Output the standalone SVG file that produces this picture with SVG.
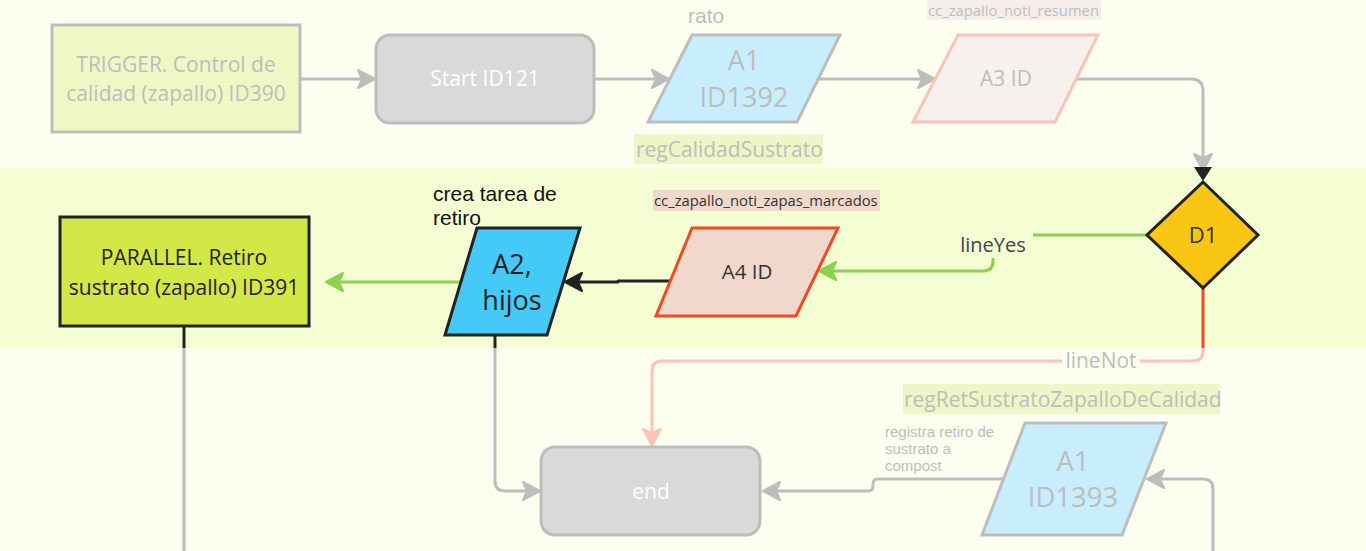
<svg xmlns="http://www.w3.org/2000/svg" width="1366" height="551" viewBox="0 0 1366 551">
<style>
.os{font-family:"Open Sans","Noto Sans","DejaVu Sans",sans-serif}
.ar{font-family:"Liberation Sans",Arial,sans-serif}
.gt{fill:#BDBDBD}
.wt{fill:#FFFFFF}
.dt{fill:#222222}
.gs{stroke:#BDBDBD;stroke-width:3}
.ds{stroke:#222222;stroke-width:3}
.ln{fill:none;stroke-width:3;stroke-linejoin:round}
</style>
<defs>
<marker id="ag" viewBox="0 0 20 20" refX="18" refY="10" markerWidth="20" markerHeight="20" markerUnits="userSpaceOnUse" orient="auto"><path d="M2,1 L19,10 L2,19 L6,10 z" fill="#BDBDBD" stroke="#BDBDBD" stroke-width="2" stroke-linejoin="round"/></marker>
<marker id="agr" viewBox="0 0 20 20" refX="18" refY="10" markerWidth="20" markerHeight="20" markerUnits="userSpaceOnUse" orient="auto"><path d="M2,1 L19,10 L2,19 L6,10 z" fill="#8CD14E" stroke="#8CD14E" stroke-width="2" stroke-linejoin="round"/></marker>
<marker id="ab" viewBox="0 0 20 20" refX="18" refY="10" markerWidth="20" markerHeight="20" markerUnits="userSpaceOnUse" orient="auto"><path d="M2,1 L19,10 L2,19 L6,10 z" fill="#222222" stroke="#222222" stroke-width="2" stroke-linejoin="round"/></marker>
<marker id="ap" viewBox="0 0 20 20" refX="18" refY="10" markerWidth="20" markerHeight="20" markerUnits="userSpaceOnUse" orient="auto"><path d="M2,1 L19,10 L2,19 L6,10 z" fill="#FFC2B8" stroke="#FFC2B8" stroke-width="2" stroke-linejoin="round"/></marker>
</defs>
<rect x="0" y="0" width="1366" height="551" fill="#FCFFF0"/>
<rect x="0" y="168" width="1366" height="180" fill="#F5FDD3"/>

<g id="connectors">
<path class="ln" d="M300,79 H374" stroke="#BDBDBD" marker-end="url(#ag)"/>
<path class="ln" d="M594,79 H668" stroke="#BDBDBD" marker-end="url(#ag)"/>
<path class="ln" d="M818,79 H934" stroke="#BDBDBD" marker-end="url(#ag)"/>
<path class="ln" d="M1077,79 H1191 Q1203,79 1203,91 V170" stroke="#BDBDBD" marker-end="url(#ag)"/>
<polygon points="1194,167 1212,167 1203,181" fill="#222222"/>
<path class="ln" d="M1147,235 H1033" stroke="#8CD14E"/>
<path class="ln" d="M993,258 V261 Q993,271 983,271 H820" stroke="#8CD14E" marker-end="url(#agr)"/>
<text class="os" x="993" y="252" font-size="20" text-anchor="middle" fill="#444444">lineYes</text>
<path class="ln" d="M1203,288 V348" stroke="#F04A23"/>
<path class="ln" d="M1203,348 V351 Q1203,361 1193,361 H1140" stroke="#FFC2B8"/>
<path class="ln" d="M1062,361 H662 Q652,361 652,371 V445" stroke="#FFC2B8" marker-end="url(#ap)"/>
<text class="os gt" x="1101" y="368" font-size="21" text-anchor="middle">lineNot</text>
<path class="ln" d="M670,281 H618 V282 H566" stroke="#222222" marker-end="url(#ab)"/>
<path class="ln" d="M460,282 H327" stroke="#8CD14E" marker-end="url(#agr)"/>
<path class="ln" d="M184,326 V348" stroke="#222222"/>
<path class="ln" d="M184,348 V551" stroke="#BDBDBD"/>
<path class="ln" d="M495,335 V348" stroke="#222222"/>
<path class="ln" d="M495,348 V481 Q495,491 505,491 H539" stroke="#BDBDBD" marker-end="url(#ag)"/>
<path class="ln" d="M1003,479 H878 Q873,479 873,484 V486 Q873,491 868,491 H764" stroke="#BDBDBD" marker-end="url(#ag)"/>
<path class="ln" d="M1213,551 V489 Q1213,479 1203,479 H1148" stroke="#BDBDBD" marker-end="url(#ag)"/>
</g>

<g id="trigger">
<rect x="52" y="25" width="248" height="107" fill="#EFF7C5" class="gs"/>
<text class="os gt" x="176" y="72" font-size="21" text-anchor="middle">TRIGGER. Control de</text>
<text class="os gt" x="176" y="101" font-size="21" text-anchor="middle">calidad (zapallo) ID390</text>
</g>

<g id="start">
<rect x="376" y="35" width="218" height="88" rx="14" fill="#D9D9D9" class="gs"/>
<text class="os wt" x="485" y="86" font-size="21" text-anchor="middle">Start ID121</text>
</g>

<g id="a1-1392">
<text class="ar gt" x="688" y="23" font-size="21">rato</text>
<polygon points="692,35 840,35 797,122 648,122" fill="#C8EEFE" class="gs"/>
<text class="os gt" x="744" y="70" font-size="27" text-anchor="middle">A1</text>
<text class="os gt" x="744" y="107" font-size="27" text-anchor="middle">ID1392</text>
<rect x="634" y="134" width="189" height="30" fill="#EEF5C6"/>
<text class="os gt" x="636" y="157" font-size="21">regCalidadSustrato</text>
</g>

<g id="a3">
<rect x="927" y="0" width="174" height="20" fill="#F5EDEA"/>
<text class="os gt" x="928" y="16" font-size="14.8">cc_zapallo_noti_resumen</text>
<polygon points="958,35 1098,35 1055,122 913,122" fill="#F7F1EE" stroke="#FFC2B8" stroke-width="3"/>
<text class="os gt" x="1006" y="86" font-size="21" text-anchor="middle">A3 ID</text>
</g>

<g id="d1">
<polygon points="1203,182 1258,235 1203,288 1147,235" fill="#F9C614" class="ds"/>
<text class="os" x="1203" y="243" font-size="22" text-anchor="middle" fill="#333333">D1</text>
</g>

<g id="a4">
<rect x="653" y="190" width="227" height="21" fill="#F0D9CC"/>
<text class="os" x="654" y="206" font-size="14.8" fill="#333333">cc_zapallo_noti_zapas_marcados</text>
<polygon points="692,228 838,228 796,316 656,316" fill="#F0D9CC" stroke="#F04A23" stroke-width="3"/>
<text class="os" x="747" y="279" font-size="20.5" text-anchor="middle" fill="#333333">A4 ID</text>
</g>

<g id="a2">
<text class="ar" x="433" y="201" font-size="21" fill="#111111">crea tarea de</text>
<text class="ar" x="433" y="225" font-size="21" fill="#111111">retiro</text>
<polygon points="477,228 580,228 547,335 445,335" fill="#45CAF7" class="ds"/>
<text class="os dt" x="512" y="274" font-size="27" text-anchor="middle">A2,</text>
<text class="os dt" x="512" y="310" font-size="27" text-anchor="middle">hijos</text>
</g>

<g id="parallel">
<rect x="60" y="217" width="249" height="109" fill="#D2E847" class="ds"/>
<text class="os dt" x="184" y="265" font-size="21" text-anchor="middle">PARALLEL. Retiro</text>
<text class="os dt" x="184" y="295" font-size="21" text-anchor="middle">sustrato (zapallo) ID391</text>
</g>

<g id="end">
<rect x="541" y="447" width="219" height="88" rx="14" fill="#D9D9D9" class="gs"/>
<text class="os wt" x="651" y="499" font-size="21" text-anchor="middle">end</text>
</g>

<g id="a1-1393">
<rect x="903" y="384" width="317" height="30" fill="#EEF5C6"/>
<text class="os gt" x="904" y="407" font-size="21">regRetSustratoZapalloDeCalidad</text>
<text class="ar gt" x="885" y="437" font-size="15">registra retiro de</text>
<text class="ar gt" x="885" y="454" font-size="15">sustrato a</text>
<text class="ar gt" x="885" y="471" font-size="15">compost</text>
<polygon points="1025,423 1166,423 1122,535 982,535" fill="#C8EEFE" class="gs"/>
<text class="os gt" x="1073" y="471" font-size="27.5" text-anchor="middle">A1</text>
<text class="os gt" x="1073" y="507" font-size="27.5" text-anchor="middle">ID1393</text>
</g>
</svg>
